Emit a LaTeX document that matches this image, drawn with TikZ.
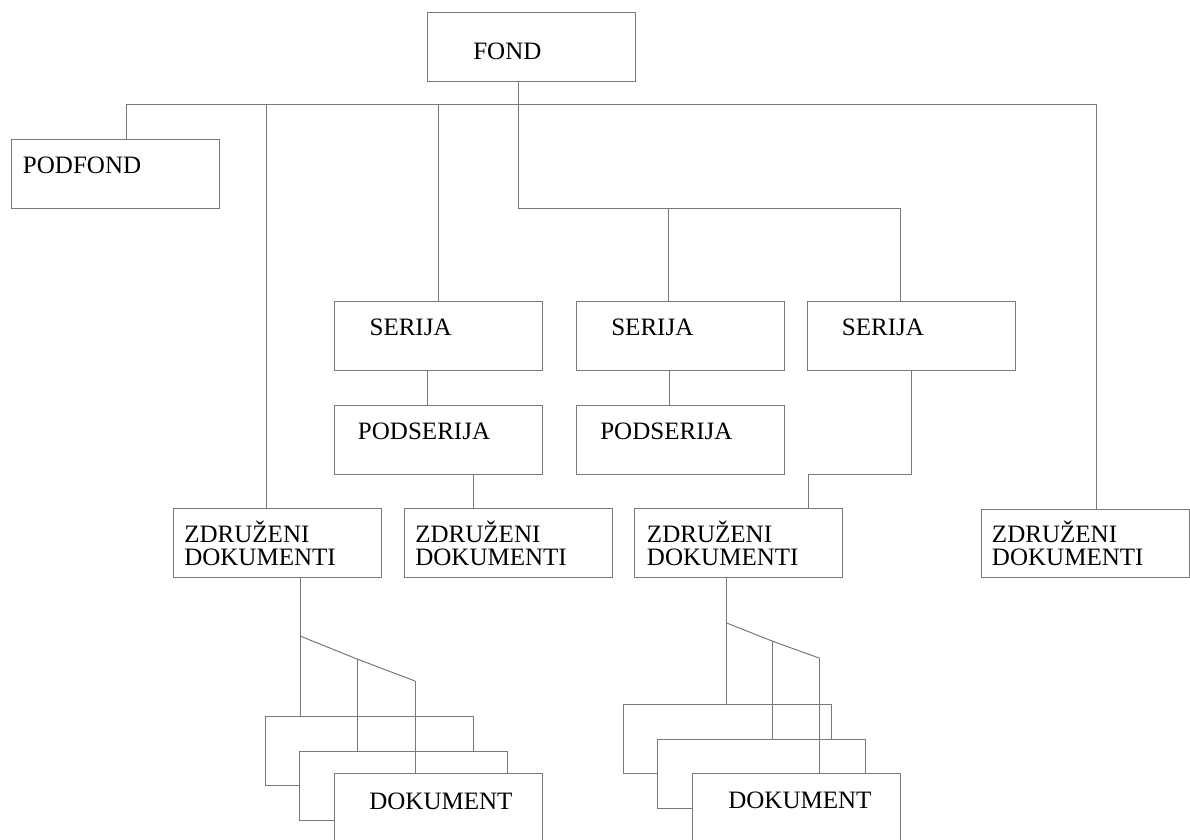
\documentclass[tikz,border=0pt]{standalone}
\usepackage{fontspec}
\setmainfont{Liberation Serif}
\usetikzlibrary{calc}
\definecolor{lineGray}{RGB}{120,120,120}

\begin{document}
\begin{tikzpicture}[
			x=0.025cm, y=-0.025cm,
			unitbox/.style={
				draw=lineGray,
				line width=0.7pt,
				fill=white,
				minimum width=5.2cm,
				minimum height=1.72cm,
				inner sep=0pt,
				anchor=north west
			},
			boxtext/.style={
				anchor=base west,
				inner sep=0pt,
				align=left,
				font=\fontsize{17.8}{16.4}\selectfont
			},
			link/.style={
				draw=lineGray,
				line width=0.7pt
			}
			]
			\useasboundingbox (0,0) rectangle (1190,840);
			\clip (0,0) rectangle (1190,840);

			\node[unitbox] (fond) at (427,12.5) {};
			\node[unitbox] (podfond) at (11,139.3) {};
			\node[unitbox] (ser1) at (334.3,301) {};
			\node[unitbox] (ser2) at (576.3,301) {};
			\node[unitbox] (ser3) at (807,301) {};
			\node[unitbox] (pods1) at (334.3,405) {};
			\node[unitbox] (pods2) at (576.3,405) {};
			\node[unitbox] (zd1) at (173.3,508.3) {};
			\node[unitbox] (zd2) at (403.7,508.3) {};
			\node[unitbox] (zd3) at (634.3,508.3) {};
			\node[unitbox] (zd4) at (980.7,508.5) {};
			\node[unitbox] (docA1) at (265,715.7) {};
			\node[unitbox] (docA2) at (299,751) {};
			\node[unitbox] (docA3) at (334,773) {};
			\node[unitbox] (docB1) at (623,704) {};
			\node[unitbox] (docB2) at (657,739) {};
			\node[unitbox] (docB3) at (692,773) {};

			\node[boxtext] (fond-t) at (473,59.3) {FOND};
			\node[boxtext] (podfond-t) at (22.7,173.3) {PODFOND};
			\node[boxtext] (ser1-t) at (369.3,335.7) {SERIJA};
			\node[boxtext] (ser2-t) at (611,335.7) {SERIJA};
			\node[boxtext] (ser3-t) at (841.7,335.7) {SERIJA};
			\node[boxtext] (pods1-t) at (357.7,439.3) {PODSERIJA};
			\node[boxtext] (pods2-t) at (600,439.3) {PODSERIJA};
			\node[boxtext] (zd1-t) at (184,565.3) {ZDRUŽENI\\DOKUMENTI};
			\node[boxtext] (zd2-t) at (415,565.3) {ZDRUŽENI\\DOKUMENTI};
			\node[boxtext] (zd3-t) at (646.7,565.3) {ZDRUŽENI\\DOKUMENTI};
			\node[boxtext] (zd4-t) at (991.7,565.3) {ZDRUŽENI\\DOKUMENTI};
			\node[boxtext] (docA-t) at (369,809) {DOKUMENT};
			\node[boxtext] (docB-t) at (728,808.3) {DOKUMENT};

			\coordinate (busL) at (126,104.3);
			\coordinate (busR) at (1096,104.3);
			\coordinate (bus1) at (266,104.3);
			\coordinate (fork) at (518,208);
			\coordinate (fork2) at (668.7,208);
			\coordinate (forkR) at (900,208);
			\draw[link] (podfond.north -| busL) -- (busL) -- (busR) -- (busR |- zd4.north);
			\draw[link] (bus1) -- (bus1 |- zd1.north);
			\draw[link] (ser1.north) -- (ser1.north |- busL);
			\draw[link] (fond.south -| fork) -- (fork) -- (forkR) -- (forkR |- ser3.north);
			\draw[link] (fork2) -- (fork2 |- ser2.north);
			\draw[link] ([xshift=-0.29cm]ser1.south) -- ([xshift=-0.29cm]pods1.north);
			\draw[link] ([xshift=-0.29cm]ser2.south) -- ([xshift=-0.29cm]pods2.north);
			\draw[link] ([xshift=0.86cm]pods1.south) -- ([xshift=0.86cm]pods1.south |- zd2.north);
			\draw[link] (ser3.south) -- (ser3.south |- pods2.south) -| ([xshift=-0.88cm]zd3.north east);

			\coordinate (splitA) at (300,636);
			\coordinate (kneeA) at (357,659);
			\coordinate (tipA) at (415,681);
			\draw[link] (zd1.south -| splitA) -- (splitA |- docA1.north);
			\draw[link] (splitA) -- (kneeA) -- (tipA);
			\draw[link] (kneeA) -- (kneeA |- docA2.north);
			\draw[link] (tipA) -- (tipA |- docA3.north);

			\coordinate (splitB) at (726.7,623);
			\coordinate (kneeB) at (772,641);
			\coordinate (tipB) at (819,658);
			\draw[link] (zd3.south -| splitB) -- (splitB |- docB1.north);
			\draw[link] (splitB) -- (kneeB) -- (tipB);
			\draw[link] (kneeB) -- (kneeB |- docB2.north);
			\draw[link] (tipB) -- (tipB |- docB3.north);
		\end{tikzpicture}
\end{document}
